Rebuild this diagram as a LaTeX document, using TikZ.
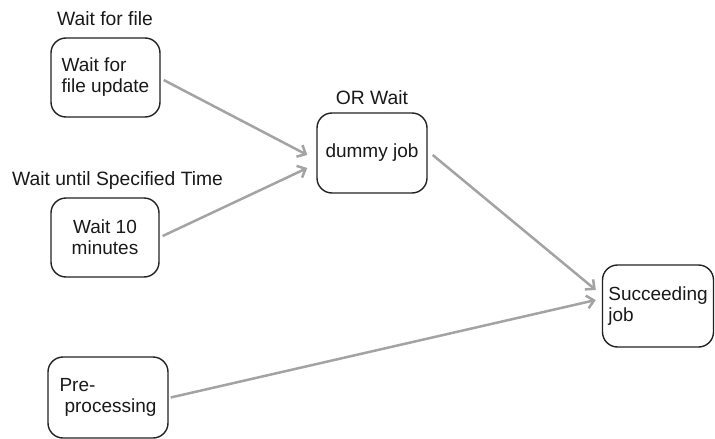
\documentclass[tikz,border=0pt]{standalone}
\usepackage{fontspec}
\setmainfont{Liberation Sans}
\usetikzlibrary{arrows.meta}
\definecolor{arrgray}{HTML}{A3A3A3}
\definecolor{boxline}{HTML}{222222}
\begin{document}
\begin{tikzpicture}[x=1pt,y=-1pt,
  lbl/.style={font=\fontsize{19.3}{21}\selectfont, anchor=base, inner sep=0pt, text=black!90},
  job/.style={draw=boxline, line width=1.4pt, rounded corners=15pt, inner sep=0pt,
              font=\fontsize{19}{21}\selectfont, text=black!90},
  arr/.style={draw=arrgray, line width=2.5pt,
              -{Straight Barb[length=7pt,width=13pt,line width=2.5pt]}}
]
\useasboundingbox (0,0) rectangle (715,439);

\node[job, minimum width=109pt, minimum height=79pt, align=left] (b1) at (105.5,77.5) {Wait for\\file update};
\node[job, minimum width=108pt, minimum height=79pt, align=center] (b2) at (105,237.5) {Wait 10\\minutes};
\node[job, minimum width=110pt, minimum height=80pt] (dummy) at (372,153) {dummy job};
\node[job, minimum width=111pt, minimum height=82pt, align=left] (succ) at (658,306) {Succeeding\\job};
\node[job, minimum width=120pt, minimum height=81pt, align=left] (pre) at (108,397.5) {Pre-\\\hspace*{5pt}processing};

\node[lbl] (l1) at (105,25) {Wait for file};
\node[lbl] (l2) at (117.5,185) {Wait until Specified Time};
\node[lbl] (l3) at (372,104) {OR Wait};

\draw[arr] ([xshift=3pt,yshift=-2.5pt]b1.east) -- ([xshift=-9pt,yshift=-2pt]dummy.west);
\draw[arr] ([xshift=3pt,yshift=1.5pt]b2.east) -- ([xshift=-9pt,yshift=-15pt]dummy.west);
\draw[arr] ([xshift=5pt,yshift=-2pt]dummy.east) -- ([xshift=-6pt,yshift=16pt]succ.west);
\draw[arr] ([xshift=2pt]pre.east) -- ([xshift=-6pt,yshift=6pt]succ.west);
\end{tikzpicture}
\end{document}
